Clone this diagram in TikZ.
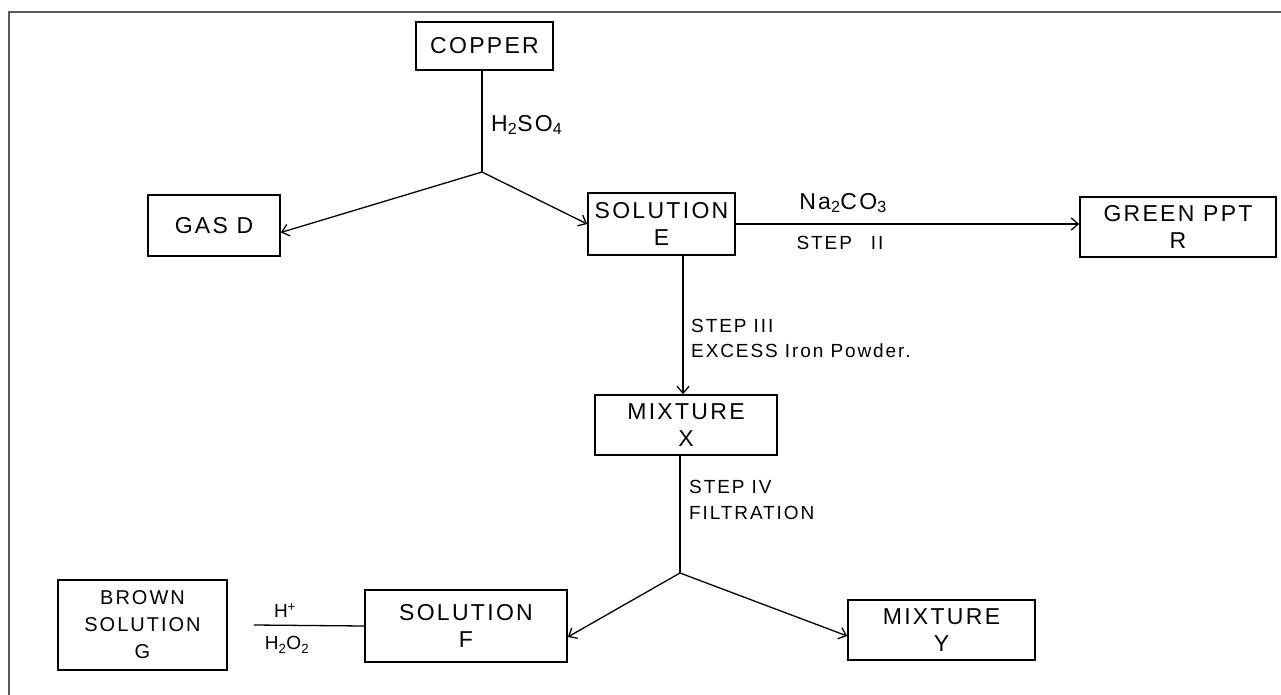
\documentclass[tikz,border=0pt]{standalone}
\usepackage{fontspec}
\setmainfont{Liberation Sans}
\newfontfamily\hand[LetterSpace=10]{Liberation Sans}
\usetikzlibrary{arrows.meta}
\begin{document}
\begin{tikzpicture}[x=1pt,y=-1pt,
  box/.style={draw,line width=1.6pt,inner sep=2pt,align=center,font=\hand\fontsize{23}{27}\selectfont},
  conn/.style={line width=1.3pt},
  arr/.style={conn,-{Straight Barb[length=7pt,width=12pt,line width=1.3pt]}},
  lbl/.style={inner sep=1pt,font=\hand\fontsize{19}{22}\selectfont},
  biglbl/.style={inner sep=1pt,font=\hand\fontsize{23}{27}\selectfont}]
\useasboundingbox (0,0) rectangle (1281,695);
\fill[white] (0,0) rectangle (1281,695);
% frame
\draw[gray!70!black,line width=2pt] (9,695) -- (9,12) -- (1281,12);
% boxes
\node[box,minimum width=137pt,minimum height=48pt] (copper) at (484.5,46) {COPPER};
\node[box,minimum width=132pt,minimum height=61pt] (gasd) at (214,225.5) {GAS D};
\node[box,minimum width=147pt,minimum height=62pt] (sole) at (661.5,224) {SOLUTION\\E};
\node[box,minimum width=196pt,minimum height=60pt] (green) at (1178,227) {GREEN PPT\\R};
\node[box,minimum width=182pt,minimum height=60pt] (mixx) at (686,425) {MIXTURE\\X};
\node[box,minimum width=202pt,minimum height=72pt] (solf) at (466,626) {SOLUTION\\F};
\node[box,minimum width=187pt,minimum height=60pt] (mixy) at (941.5,630) {MIXTURE\\Y};
\node[box,minimum width=169pt,minimum height=90pt,font=\hand\fontsize{20}{27}\selectfont] (browng) at (142.5,625) {BROWN\\SOLUTION\\G};
% junctions
\coordinate (j1) at (482,172);
\coordinate (j2) at (680,573);
% connectors
\draw[conn] (copper.south -| j1) -- (j1);
\draw[arr] (j1) -- ([yshift=-7pt]gasd.east);
\draw[arr] (j1) -- (sole.west);
\draw[arr] (sole.east) -- (sole.east -| green.west);
\draw[arr] ([xshift=21.5pt]sole.south) -- ([xshift=-3pt]mixx.north);
\draw[conn] (mixx.south -| j2) -- (j2);
\draw[arr] (j2) -- ([yshift=-11pt]solf.east);
\draw[arr] (j2) -- ([yshift=-6pt]mixy.west);
\draw[conn] ([xshift=26pt]browng.east) -- (solf.west);
% labels
\node[biglbl,anchor=west] (l1) at (490,125) {H\textsubscript{2}SO\textsubscript{4}};
\node[biglbl] (l2) at (843,203) {Na\textsubscript{2}CO\textsubscript{3}};
\node[lbl] (l3) at (840,243) {STEP\quad II};
\node[lbl,anchor=west] (l4) at (690,326) {STEP III};
\node[lbl,anchor=west] (l5) at (690,351) {EXCESS Iron Powder.};
\node[lbl,anchor=west] (l6) at (688,487) {STEP IV};
\node[lbl,anchor=west] (l7) at (688,513) {FILTRATION};
\node[lbl] (l8) at (285,611) {H\textsuperscript{+}};
\node[lbl] (l9) at (287,645) {H\textsubscript{2}O\textsubscript{2}};
\end{tikzpicture}
\end{document}
